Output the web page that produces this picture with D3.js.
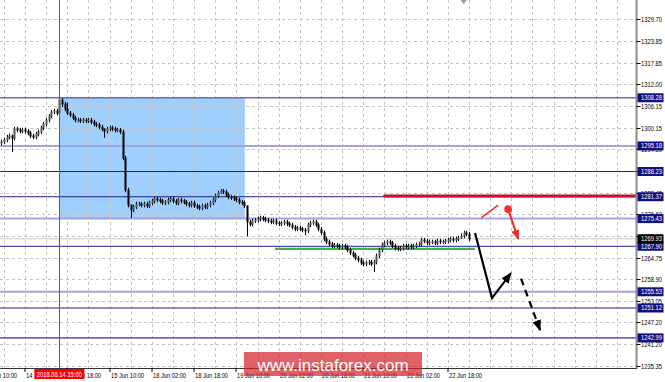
<!DOCTYPE html>
<html>
<head>
<meta charset="utf-8">
<script src="https://cdn.jsdelivr.net/npm/d3@7"></script>
<style>
  body { margin: 0; background: #fff; }
  text { font-family: "Liberation Sans", Arial, sans-serif; }
</style>
</head>
<body>
<div id="chart"></div>
<script>
var width = 665, height = 382,
    plotRight = 636.5, plotBottom = 368;

// hourly closes, first bar = 13 Jun 17:00 (hour -9 from 14 Jun 02:00)
var firstHour = -9;
var closes = [
  1296.3,1296.8,1297.6,1297.9,1297.3,1299.8,1299.5,1299.2,1299.5,
  1299.2,1298.7,1297.9,1297.6,1298.4,1299.0,1300.1,1301.1,1302.2,1303.3,
  1304.4,1304.7,1304.1,1307.7,1306.6,1305.2,1304.1,1303.6,1302.8,1302.2,
  1302.2,1302.0,1302.2,1302.0,1302.2,1301.7,1301.1,1300.9,1300.3,1299.8,
  1299.2,1299.8,1300.1,1299.8,1299.5,1299.5,1299.0,1291.9,1283.2,1279.1,
  1277.8,1278.6,1279.4,1279.4,1279.1,1279.4,1278.9,1279.7,1280.2,1280.8,
  1280.5,1280.2,1279.7,1279.9,1280.5,1280.8,1280.2,1279.7,1280.5,1280.2,
  1279.9,1279.4,1279.1,1279.7,1278.9,1278.6,1278.3,1278.9,1278.6,1279.1,
  1279.7,1280.5,1281.6,1282.4,1282.9,1282.7,1281.9,1281.3,1281.1,1280.8,
  1280.5,1279.9,1279.7,1278.9,1274.5,1273.9,1274.8,1275.0,1275.3,1275.6,
  1275.3,1275.0,1274.8,1274.5,1274.8,1274.2,1274.0,1274.2,1274.5,1274.0,
  1273.7,1273.1,1272.6,1272.9,1272.6,1272.3,1272.1,1273.7,1274.2,1274.5,
  1273.7,1272.6,1271.6,1269.9,1269.1,1268.5,1268.0,1268.2,1268.0,1267.7,
  1268.0,1267.7,1266.9,1266.1,1265.5,1264.7,1264.2,1263.4,1263.1,1263.4,
  1263.6,1263.1,1263.6,1265.3,1266.9,1268.3,1268.8,1269.1,1268.8,1268.0,
  1267.4,1267.2,1267.4,1268.0,1267.7,1268.0,1267.7,1268.0,1268.3,1268.5,
  1269.6,1269.3,1268.8,1269.1,1269.1,1268.8,1269.3,1269.1,1269.1,1269.3,
  1269.6,1269.9,1269.6,1269.9,1270.1,1270.7,1271.5,1271.2,1269.93
];
var firstOpen = 1296.0;
// bars with long shadows: [hour, high, low]
var wicks = [
  [-5, 1298.3, 1293.5], [13, 1308.5, 1303.4], [14, 1308.2, 1305.8],
  [16, 1307.0, 1303.6], [30, 1299.9, 1297.4], [40, 1279.2, 1275.6],
  [74, 1283.5, 1282.1], [84, 1278.9, 1270.6], [106, 1272.9, 1270.9],
  [132, 1264.2, 1260.9], [165, 1271.4, 1270.0]
];

var priceTicks = [1329.70,1323.85,1317.85,1312.00,1306.15,1300.15,1294.30,1288.45,
                  1282.45,1276.60,1270.60,1264.75,1258.90,1253.05,1247.20,1241.20,1235.35];
var levels = [1308.28,1295.18,1288.23,1281.37,1275.43,1267.90,1255.53,1251.12,1242.99];
var levelKinds = ["mid","light","dark","dark","light","dark","light","dark","mid"];
var currentPrice = 1269.93;

var timeLabels = ["13 Jun 10:00","14 Jun 02:00","14 Jun 18:00","15 Jun 10:00","18 Jun 02:00",
                  "18 Jun 18:00","19 Jun 10:00","20 Jun 02:00","20 Jun 18:00","21 Jun 10:00",
                  "22 Jun 02:00","22 Jun 18:00"];
var timeLabelHours = [-16,0,16,32,48,64,80,96,112,128,144,160];
var markerHour = 13, markerLabel = "2018.06.14 15:00";
var shiftHour = 166;

// analysis drawings (hour, price)
var boxZone = {from: 13, to: 83.2, top: 1308.28, bottom: 1275.43};
var redLevel = {from: 135.6, price: 1281.58};
var greenLevel = {from: 94.6, to: 170.3, price: 1267.17};
var blackPath = [[170.3, 1271.5], [176.7, 1253.8], [183.9, 1260.6]];
var blackDash = [[187.7, 1259.1], [194.9, 1245.1]];
var redLine = [[172.6, 1275.6], [179.0, 1279.1]];
var redArrow = [[182.8, 1278.0], [186.6, 1269.9]];

////////////////////////////////////////////////////////////
//////////////////////// Scales ////////////////////////////
////////////////////////////////////////////////////////////

var x = d3.scaleLinear().domain([0, 231.2]).range([25, 636]);
var y = d3.scaleLinear().domain([1235.35, 1329.70]).range([366, 19]);

var svg = d3.select("#chart").append("svg")
  .attr("width", width)
  .attr("height", height)
  .style("display", "block");

svg.append("rect").attr("width", width).attr("height", height).attr("fill", "#fff");

var defs = svg.append("defs");
function head(id, color, len, w) {
  defs.append("marker")
    .attr("id", id)
    .attr("markerUnits", "userSpaceOnUse")
    .attr("markerWidth", len).attr("markerHeight", w)
    .attr("refX", len - 1).attr("refY", w / 2)
    .attr("orient", "auto")
    .append("path")
    .attr("d", "M0,0L" + len + "," + (w / 2) + "L0," + w + "Z")
    .attr("fill", color);
}
head("hBlack", "#000", 11, 9);
head("hRed", "#f02828", 10, 8);

var plot = svg.append("g");
plot.append("clipPath").attr("id", "clip")
  .append("rect").attr("width", plotRight).attr("height", plotBottom);
var area = plot.append("g").attr("clip-path", "url(#clip)");

// blue zone
area.append("rect")
  .attr("x", x(boxZone.from)).attr("y", y(boxZone.top))
  .attr("width", x(boxZone.to) - x(boxZone.from))
  .attr("height", y(boxZone.bottom) - y(boxZone.top))
  .attr("fill", "#9fcfff");

// grid
area.selectAll("line.hgrid")
  .data(priceTicks).enter().append("line")
  .attr("x1", 0).attr("x2", plotRight)
  .attr("y1", function(d) { return Math.round(y(d)) + 0.5; })
  .attr("y2", function(d) { return Math.round(y(d)) + 0.5; })
  .attr("stroke", "#c4c4c4").attr("stroke-dasharray", "3,3");

area.selectAll("line.vgrid")
  .data(d3.range(-8, 225, 8)).enter().append("line")
  .attr("x1", function(d) { return Math.round(x(d)) + 0.5; })
  .attr("x2", function(d) { return Math.round(x(d)) + 0.5; })
  .attr("y1", 0).attr("y2", plotBottom)
  .attr("stroke", "#c4c4c4").attr("stroke-dasharray", "3,3");

// levels
var levelStyle = {
  dark:  {c: "#20208c", w: 1},
  light: {c: "#a4a4dc", w: 2},
  mid:   {c: "#6a6abf", w: 1.6}
};
area.append("line")
  .attr("x1", 0).attr("x2", plotRight)
  .attr("y1", y(currentPrice)).attr("y2", y(currentPrice))
  .attr("stroke", "#c8c8c8");

area.selectAll("line.level")
  .data(levels).enter().append("line")
  .attr("x1", 0).attr("x2", plotRight)
  .attr("y1", function(d) { return y(d); })
  .attr("y2", function(d) { return y(d); })
  .attr("stroke", function(d, i) { return levelStyle[levelKinds[i]].c; })
  .attr("stroke-width", function(d, i) { return levelStyle[levelKinds[i]].w; });

area.append("line")
  .attr("x1", x(redLevel.from)).attr("x2", plotRight)
  .attr("y1", y(redLevel.price)).attr("y2", y(redLevel.price))
  .attr("stroke", "#c8102e").attr("stroke-width", 3);

area.append("line")
  .attr("x1", x(greenLevel.from)).attr("x2", x(greenLevel.to))
  .attr("y1", y(greenLevel.price)).attr("y2", y(greenLevel.price))
  .attr("stroke", "#3cb44b").attr("stroke-width", 2.2);

////////////////////////////////////////////////////////////
/////////////////////// Candles ////////////////////////////
////////////////////////////////////////////////////////////

var bars = closes.map(function(c, i) {
  var o = i ? closes[i - 1] : firstOpen,
      h = firstHour + i,
      w = wicks.find(function(k) { return k[0] === h; });
  return {
    h: h, o: o, c: c,
    hi: w ? w[1] : Math.max(o, c) + 0.6,
    lo: w ? w[2] : Math.min(o, c) - 0.6
  };
});

var candle = area.selectAll("g.candle")
  .data(bars).enter().append("g")
  .attr("class", "candle");

candle.append("line")
  .attr("x1", function(d) { return Math.round(x(d.h)) + 0.5; })
  .attr("x2", function(d) { return Math.round(x(d.h)) + 0.5; })
  .attr("y1", function(d) { return y(d.hi); })
  .attr("y2", function(d) { return y(d.lo); })
  .attr("stroke", "#000").attr("stroke-width", 1);

candle.append("rect")
  .attr("x", function(d) { return Math.round(x(d.h)) - 0.5; })
  .attr("width", 2)
  .attr("y", function(d) { return y(Math.max(d.o, d.c)) - 0.5; })
  .attr("height", function(d) { return Math.max(1.5, Math.abs(y(d.o) - y(d.c)) + 1); })
  .attr("fill", function(d) { return d.c >= d.o ? "#555" : "#000"; });

// time marker
area.append("line")
  .attr("x1", Math.round(x(markerHour)) + 0.5).attr("x2", Math.round(x(markerHour)) + 0.5)
  .attr("y1", 0).attr("y2", plotBottom)
  .attr("stroke", "#ff1a1a").attr("stroke-width", 1);

////////////////////////////////////////////////////////////
////////////////////// Drawings ////////////////////////////
////////////////////////////////////////////////////////////

var line = d3.line()
  .x(function(d) { return x(d[0]); })
  .y(function(d) { return y(d[1]); });

area.append("path").attr("d", line(blackPath))
  .attr("fill", "none").attr("stroke", "#000").attr("stroke-width", 2.2)
  .attr("marker-end", "url(#hBlack)");

area.append("path").attr("d", line(blackDash))
  .attr("fill", "none").attr("stroke", "#000").attr("stroke-width", 2.2)
  .attr("stroke-dasharray", "7,5")
  .attr("marker-end", "url(#hBlack)");

area.append("path").attr("d", line(redLine))
  .attr("fill", "none").attr("stroke", "#ff2a2a").attr("stroke-width", 1.6);

area.append("path").attr("d", line(redArrow))
  .attr("fill", "none").attr("stroke", "#f02828").attr("stroke-width", 2)
  .attr("marker-end", "url(#hRed)");

area.append("circle")
  .attr("cx", x(redArrow[0][0])).attr("cy", y(redArrow[0][1]))
  .attr("r", 3.8).attr("fill", "#f03030");

// chart shift mark
svg.append("path")
  .attr("d", "M" + (x(shiftHour) - 3) + ",0L" + (x(shiftHour) + 3) + ",0L" + x(shiftHour) + ",4Z")
  .attr("fill", "#9a9a9a");

////////////////////////////////////////////////////////////
//////////////////////// Axes //////////////////////////////
////////////////////////////////////////////////////////////

svg.append("line")
  .attr("x1", plotRight).attr("x2", plotRight).attr("y1", 0).attr("y2", plotBottom + 1)
  .attr("stroke", "#8c8c8c").attr("stroke-width", 2);
svg.append("line")
  .attr("x1", 0).attr("x2", plotRight).attr("y1", plotBottom + 0.5).attr("y2", plotBottom + 0.5)
  .attr("stroke", "#333");

var yTick = svg.selectAll("g.ytick")
  .data(priceTicks).enter().append("g")
  .attr("transform", function(d) { return "translate(0," + (Math.round(y(d)) + 0.5) + ")"; });
yTick.append("line").attr("x1", plotRight).attr("x2", plotRight + 4).attr("stroke", "#000");
yTick.append("text")
  .attr("x", 641).attr("dy", "0.35em")
  .attr("textLength", 21).attr("lengthAdjust", "spacingAndGlyphs")
  .style("font-size", "7px").attr("fill", "#000")
  .text(function(d) { return d.toFixed(2); });

var tag = svg.selectAll("g.tag")
  .data(levels.concat([currentPrice])).enter().append("g")
  .attr("transform", function(d) { return "translate(0," + y(d) + ")"; });
tag.append("rect")
  .attr("x", 637.5).attr("y", -4.5).attr("width", 26).attr("height", 9)
  .attr("fill", function(d) { return d === currentPrice ? "#000" : "#10107c"; });
tag.append("text")
  .attr("x", 641).attr("dy", "0.35em")
  .attr("textLength", 21).attr("lengthAdjust", "spacingAndGlyphs")
  .style("font-size", "7px").attr("fill", "#fff")
  .text(function(d) { return d.toFixed(2); });

var xTick = svg.selectAll("g.xtick")
  .data(timeLabelHours).enter().append("g")
  .attr("transform", function(d) { return "translate(" + Math.round(x(d)) + "," + plotBottom + ")"; });
xTick.append("line").attr("y1", 0).attr("y2", 4).attr("stroke", "#000");
xTick.append("text")
  .attr("x", 1).attr("y", 9.5)
  .attr("textLength", 33).attr("lengthAdjust", "spacingAndGlyphs")
  .style("font-size", "7px").attr("fill", "#000")
  .text(function(d, i) { return timeLabels[i]; });

svg.append("rect")
  .attr("x", x(markerHour) - 25).attr("y", plotBottom + 1)
  .attr("width", 50).attr("height", 10).attr("fill", "#ff0000");
svg.append("text")
  .attr("x", x(markerHour) - 22.5).attr("y", plotBottom + 8.5)
  .attr("textLength", 45).attr("lengthAdjust", "spacingAndGlyphs")
  .style("font-size", "7px").attr("fill", "#fff")
  .text(markerLabel);

// watermark
svg.append("rect")
  .attr("x", 244).attr("y", 352).attr("width", 178).attr("height", 24)
  .attr("fill", "#d41e2a").attr("opacity", 0.7);
svg.append("text")
  .attr("x", 333).attr("y", 371)
  .attr("text-anchor", "middle")
  .style("font-size", "17px").attr("fill", "#fff")
  .text("www.instaforex.com");
</script>
</body>
</html>
